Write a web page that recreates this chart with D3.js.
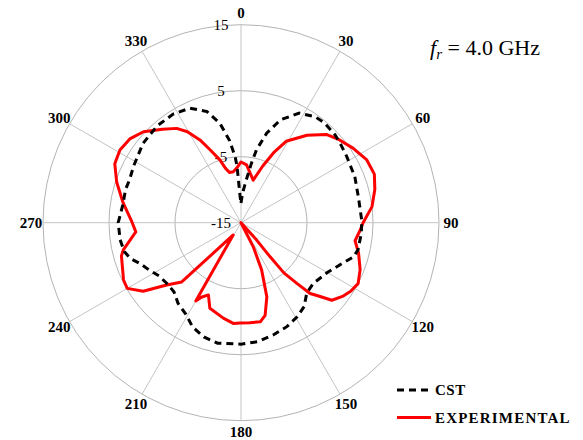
<!DOCTYPE html>
<html>
<head>
<meta charset="utf-8">
<script src="https://cdn.jsdelivr.net/npm/d3@7/dist/d3.min.js"></script>
<style>
    body {
        margin: 0;
        background: #fff;
    }
    #chart {
        width: 583px;
        height: 440px;
    }
    svg {
        display: block;
    }
</style>
</head>
<body>
<div id="chart"></div>
<script>
// angle ticks (degrees, clockwise from top) and gain rings (dB)
const angleTicks = [0, 30, 60, 90, 120, 150, 180, 210, 240, 270, 300, 330];
const gainTicks = [-15, -5, 5, 15];

// CST simulation
const cstAngle = [0, 3, 7, 10, 12, 16, 21, 28, 35, 40, 47, 52, 58, 68, 78, 89, 95, 103, 107, 113, 120, 130, 137, 143, 149, 156, 164, 172, 180, 191, 198, 205, 211, 218, 224, 230, 237, 243, 248, 252, 256, 262, 270, 279, 286, 291, 298, 309, 319, 328, 336, 343, 348, 352, 355, 356, 358];
const cstGain = [-12, -10.5, -8.5, -5.8, -3.7, -0.9, 1.7, 3.8, 4.6, 4.7, 4.5, 4.2, 3.9, 3.6, 3.2, 3.3, 3.3, 3.2, 2.8, 1.3, 0.1, -0.7, -0.4, 0.9, 1.6, 2.2, 2.7, 3.2, 3.4, 3.6, 3.2, 2.4, 1.2, 0.5, -0.4, -0.5, -0.2, 0.7, 1.5, 2.6, 3.2, 3.5, 3.6, 3.1, 3.2, 3.1, 3.4, 4.1, 4.4, 4.4, 4.0, 2.6, 0.4, -2.4, -5, -6.5, -11];

// measured pattern
const expAngle = [0, 5.5, 16, 21, 25, 29, 37, 44, 50, 56.5, 63.5, 70, 76, 83, 90, 93.5, 99, 104.5, 111.5, 117.5, 122, 126, 130.5, 133, 135.7, 137.4, 139.5, 139.5, 138, 146, 153, 156.4, 160.8, 165.4, 169, 175, 180.5, 184.4, 190.5, 200, 204.3, 208, 210, 212.5, 225, 230, 235, 240, 244, 254.5, 257, 265, 271, 279.5, 288, 295, 301, 307, 313, 320, 325.7, 329.5, 333.6, 337, 341.5, 344, 347, 351.4, 355.5];
const expGain = [-5.8, -6.2, -8.3, -5.8, -3.3, -0.9, 1.6, 3.6, 4.5, 5.4, 6.3, 6.5, 5.9, 5.0, 3.5, 3.1, 2.5, 3.4, 4.4, 5.0, 4.6, 4.0, 3.1, 1.4, 0, -2.5, -5, -8.2, -11.5, -15, -10.9, -7.2, -3.1, -0.5, 0.3, 0.2, 0.2, 0.3, -0.3, -1.2, -3.0, -2.2, -1.3, -12.8, -2.3, -0.3, 3.1, 4.9, 4.8, 3.8, 3.3, 1.0, 1.6, 3.1, 4.8, 6.1, 6.4, 6.1, 5.2, 3.5, 2.3, 1.0, -1.0, -3.0, -5, -6.4, -7.2, -7.2, -6.7];

const seriesNames = ["CST", "EXPERIMENTAL"];

const width = 583;
const height = 440;
const cx = 241;
const cy = 222.7;
const outerR = 198;
const serif = "'Liberation Serif', 'Times New Roman', Times, serif";

const svg = d3
    .select("#chart")
    .append("svg")
    .attr("width", width)
    .attr("height", height)
    .attr("font-family", serif);

svg.append("rect")
    .attr("width", width)
    .attr("height", height)
    .attr("fill", "#fff");

const plot = svg
    .append("g")
    .attr("transform", "translate(" + cx + "," + cy + ")");

const r = d3.scaleLinear().domain([-15, 15]).range([0, outerR]);
const a = d3.scaleLinear().domain([0, 360]).range([0, 2 * Math.PI]);

// rings
plot.selectAll(".ring")
    .data(gainTicks.filter((d) => d > -15))
    .enter()
    .append("circle")
    .attr("class", "ring")
    .attr("r", (d) => r(d))
    .attr("fill", "none")
    .attr("stroke", "#b4b4b4")
    .attr("stroke-width", 1);

// spokes
plot.selectAll(".spoke")
    .data(angleTicks)
    .enter()
    .append("line")
    .attr("class", "spoke")
    .attr("x1", 0)
    .attr("y1", 0)
    .attr("x2", (d) => Math.sin(a(d)) * r(15))
    .attr("y2", (d) => -Math.cos(a(d)) * r(15))
    .attr("stroke", "#c4c4c4")
    .attr("stroke-width", 1);

// angle labels
plot.selectAll(".angleLabel")
    .data(angleTicks)
    .enter()
    .append("text")
    .attr("class", "angleLabel")
    .attr("x", (d) => Math.sin(a(d)) * (outerR + 12))
    .attr("y", (d) => -Math.cos(a(d)) * (outerR + 11.5))
    .attr("text-anchor", "middle")
    .attr("dominant-baseline", "central")
    .attr("font-family", serif)
    .attr("font-size", "15px")
    .attr("font-weight", "bold")
    .attr("fill", "#000")
    .text((d) => d);

// gain labels
plot.selectAll(".gainLabel")
    .data(gainTicks)
    .enter()
    .append("text")
    .attr("class", "gainLabel")
    .attr("x", -20)
    .attr("y", (d) => -r(d))
    .attr("text-anchor", "middle")
    .attr("dominant-baseline", "central")
    .attr("font-family", serif)
    .attr("font-size", "15px")
    .attr("fill", "#000")
    .text((d) => d);

const radial = d3
    .lineRadial()
    .angle((d) => a(d[0]))
    .radius((d) => r(d[1]))
    .curve(d3.curveLinearClosed);

const cstData = cstAngle.map((d, i) => [d, cstGain[i]]);
const expData = expAngle.map((d, i) => [d, expGain[i]]);

plot.append("path")
    .datum(expData)
    .attr("fill", "none")
    .attr("stroke", "#ff0000")
    .attr("stroke-width", 3)
    .attr("stroke-linejoin", "round")
    .attr("d", radial);

plot.append("path")
    .datum(cstData)
    .attr("fill", "none")
    .attr("stroke", "#000")
    .attr("stroke-width", 3)
    .attr("stroke-dasharray", "7,5")
    .attr("d", radial);

// title
const title = svg
    .append("text")
    .attr("x", 430)
    .attr("y", 55)
    .attr("font-family", serif)
    .attr("font-size", "22px")
    .attr("fill", "#000");
title.append("tspan").attr("font-style", "italic").text("f");
title.append("tspan")
    .attr("font-style", "italic")
    .attr("font-size", "15px")
    .attr("dy", 4)
    .text("r");
title.append("tspan").attr("dy", -4).text(" = 4.0 GHz");

// legend
const legend = svg.append("g").attr("transform", "translate(397,390)");
const legendStyles = [
    { color: "#000", dash: "7,5" },
    { color: "#ff0000", dash: null },
];
seriesNames.forEach((name, i) => {
    const row = legend.append("g").attr("transform", "translate(0," + i * 27.5 + ")");
    row.append("line")
        .attr("x1", 0)
        .attr("x2", 34)
        .attr("y1", 0)
        .attr("y2", 0)
        .attr("stroke", legendStyles[i].color)
        .attr("stroke-width", 3)
        .attr("stroke-dasharray", legendStyles[i].dash);
    row.append("text")
        .attr("x", 38)
        .attr("y", 0)
        .attr("dominant-baseline", "central")
        .attr("font-family", serif)
        .attr("font-size", "15px")
        .attr("font-weight", "bold")
        .attr("letter-spacing", i == 1 ? "1.2px" : "0.5px")
        .attr("fill", "#000")
        .text(name);
});
</script>
</body>
</html>
